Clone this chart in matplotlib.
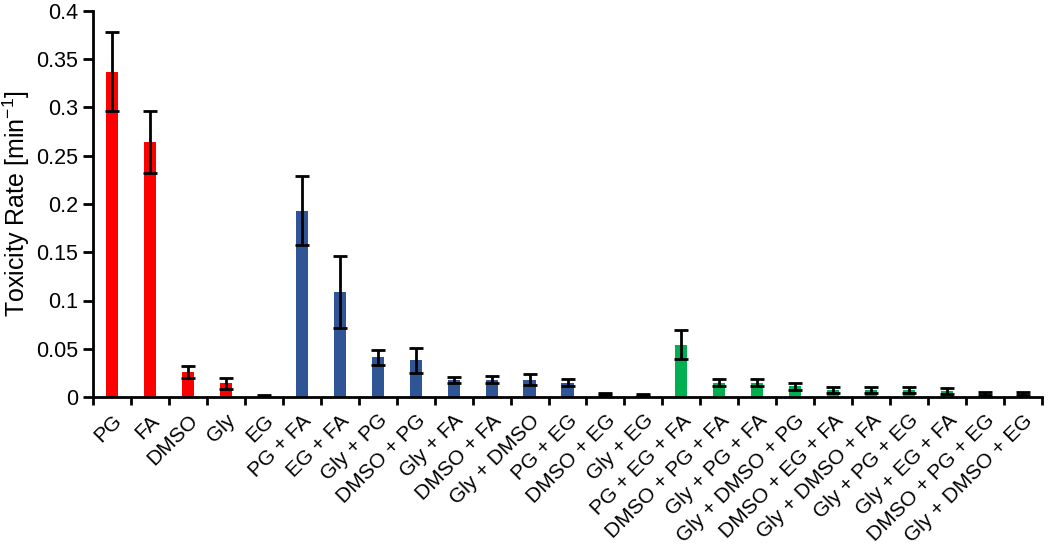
import numpy as np
import matplotlib.pyplot as plt

plt.rcParams['font.family'] = ['Liberation Sans', 'DejaVu Sans']

# mixtures, in plotted order
labels = ['PG', 'FA', 'DMSO', 'Gly', 'EG',
          'PG + FA', 'EG + FA', 'Gly + PG', 'DMSO + PG', 'Gly + FA',
          'DMSO + FA', 'Gly + DMSO', 'PG + EG', 'DMSO + EG', 'Gly + EG',
          'PG + EG + FA', 'DMSO + PG + FA', 'Gly + PG + FA', 'Gly + DMSO + PG',
          'DMSO + EG + FA', 'Gly + DMSO + FA', 'Gly + PG + EG', 'Gly + EG + FA',
          'DMSO + PG + EG', 'Gly + DMSO + EG']
rates = [0.337, 0.264, 0.026, 0.014, 0.001,
         0.193, 0.109, 0.041, 0.038, 0.018,
         0.018, 0.018, 0.015, 0.003, 0.002,
         0.054, 0.015, 0.015, 0.011, 0.007,
         0.007, 0.007, 0.006, 0.004, 0.004]
errors = [0.041, 0.032, 0.006, 0.006, 0.0008,
          0.036, 0.037, 0.008, 0.013, 0.003,
          0.004, 0.006, 0.004, 0.0012, 0.0008,
          0.015, 0.004, 0.004, 0.004, 0.003,
          0.003, 0.003, 0.003, 0.0015, 0.0015]
# number of components: 1 = single, 2 = pair, 3 = triple
groups = [1] * 5 + [2] * 10 + [3] * 10
group_colors = {1: '#FF0000', 2: '#2F5597', 3: '#00B050'}

fig = plt.figure(figsize=(10.5, 5.51), dpi=100)
ax = fig.add_axes([93 / 1050, 1 - 397 / 551, (1042 - 93) / 1050, (397 - 11) / 551])

x = np.arange(len(labels))
ax.bar(x, rates, width=0.32, color=[group_colors[g] for g in groups],
       yerr=errors, error_kw=dict(ecolor='black', elinewidth=2,
                                  capsize=5, capthick=2))

ax.set_xlim(-0.5, len(labels) - 0.5)
ax.set_ylim(0, 0.4)
ax.set_yticks(np.arange(0, 0.401, 0.05))
ax.set_yticklabels(['0', '0.05', '0.1', '0.15', '0.2', '0.25', '0.3', '0.35', '0.4'])
ax.set_ylabel('Toxicity Rate [min$^{\\mathregular{-1}}$]', fontsize=18, labelpad=3)

ax.set_xticks(x)
ax.set_xticklabels(labels, rotation=45, ha='right', va='top',
                   rotation_mode='anchor', fontsize=15)
ax.tick_params(axis='x', length=0, pad=10)
ax.set_xticks(np.arange(-0.5, len(labels), 1), minor=True)
ax.tick_params(axis='x', which='minor', length=6, width=2, direction='out')
ax.tick_params(axis='y', labelsize=15.5, length=7, width=2, direction='out')

for side in ['top', 'right']:
    ax.spines[side].set_visible(False)
for side in ['left', 'bottom']:
    ax.spines[side].set_linewidth(2)

fig.savefig('out.png', dpi=100)
